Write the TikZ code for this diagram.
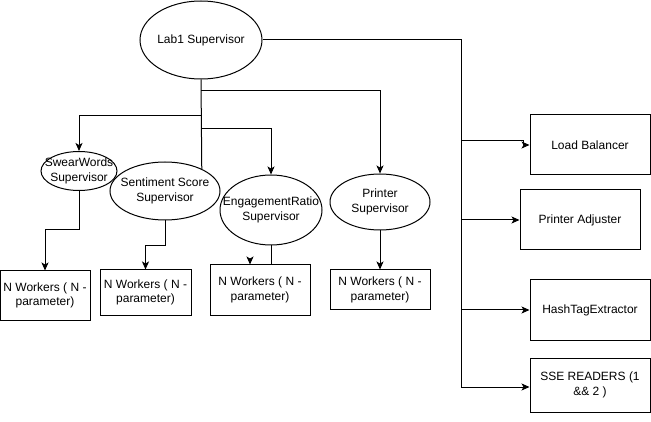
\documentclass[tikz,border=0pt]{standalone}
\usepackage{fontspec}
\setmainfont{Liberation Sans}
\usetikzlibrary{shapes.geometric,arrows.meta}

\tikzset{
  sup/.style={ellipse, draw, line width=1pt, inner sep=0pt},
  box/.style={rectangle, draw, line width=1pt, inner sep=0pt, align=center},
  lbl/.style={align=center, inner sep=0pt},
  arr/.style={-{Stealth[length=8pt,width=7pt,inset=2pt]}},
}

\begin{document}
\begin{tikzpicture}[x=1pt, y=-1pt, line width=1pt,
    font=\fontsize{12}{14.5}\selectfont]
    \useasboundingbox (0,0) rectangle (651,422);

    % 楕円 (supervisor)
    \node[sup, minimum width=122pt, minimum height=78pt,
      label={[lbl]center:Lab1 Supervisor}] (lab) at (201,40) {};
    \node[sup, minimum width=76pt, minimum height=39pt,
      label={[lbl]center:SwearWords\\Supervisor}] (sw) at (79,171) {};
    \node[sup, minimum width=110pt, minimum height=58pt,
      label={[lbl]center:Sentiment Score\\Supervisor}] (ss) at (165,191) {};
    \node[sup, minimum width=102pt, minimum height=70pt,
      label={[lbl]center:EngagementRatio\\Supervisor}] (er) at (271,210) {};
    \node[sup, minimum width=100pt, minimum height=56pt,
      label={[lbl]center:Printer\\Supervisor}] (pr) at (380,202) {};

    % workers の箱
    \node[box, minimum width=90pt, minimum height=49pt] (w1) at (45,295.5)
      {N Workers ( N -\\parameter)};
    \node[box, minimum width=91pt, minimum height=45pt] (w2) at (145.5,292.5)
      {N Workers ( N -\\parameter)};
    \node[box, minimum width=100pt, minimum height=50pt] (w3) at (260,290)
      {N Workers ( N -\\parameter)};
    \node[box, minimum width=100pt, minimum height=40pt] (w4) at (380,290)
      {N Workers ( N -\\parameter)};

    % 右側の箱
    \node[box, minimum width=120pt, minimum height=60pt] (lb) at (590,145) {Load Balancer};
    \node[box, minimum width=120pt, minimum height=60pt] (pa) at (580,220) {Printer Adjuster};
    \node[box, minimum width=120pt, minimum height=60pt] (ht) at (590,310) {HashTagExtractor};
    \node[box, minimum width=120pt, minimum height=54pt] (sse) at (590,385) {SSE READERS (1\\\&\& 2 )};

    % 右への幹線
    \coordinate (bus) at (461,387);
    \draw (lab.east) -| (bus);
    \draw[arr] (bus |- 0,141) -- (523,141) |- (lb.west);
    \draw[arr] (bus |- pa.west) -- (pa.west);
    \draw[arr] (bus |- ht.west) -- (ht.west);
    \draw[arr] (bus) -- (bus -| sse.west);

    % 下への線
    \draw (lab.south) -- (ss.31);
    \draw[arr] ([yshift=-11pt]lab.south) -| (pr.north);
    \draw[arr] ([yshift=-36pt]lab.south) -| (sw.north);
    \draw[arr] ([yshift=-49pt]lab.south) -| (er.north);

    \draw[arr] (sw.south) -- ++(0,39) -| (w1.north);
    \draw[arr] (ss.south) -- ++(0,25) -| (w2.north);
    \draw (er.south) -- (er.south |- w3.north);
    \draw[arr] ([shift={(-10pt,3pt)}]w3.north) -- ([xshift=-10pt]w3.north);
    \draw[arr] (pr.south) -- (w4.north);

\end{tikzpicture}
\end{document}
